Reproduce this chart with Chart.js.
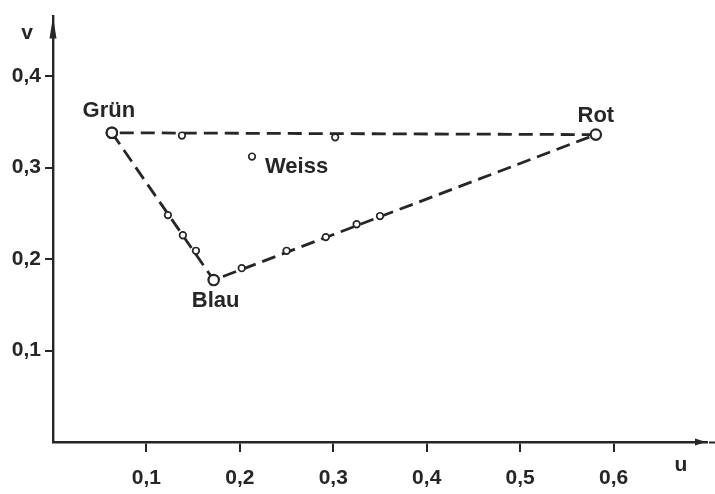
<!DOCTYPE html>
<html>
<head>
<meta charset="utf-8">
<script src="https://cdn.jsdelivr.net/npm/chart.js@4"></script>
<style>
  html, body { margin: 0; padding: 0; background: #fff; }
  #box { width: 715px; height: 494px; position: relative; }
</style>
</head>
<body>
<div id="box"><canvas id="c"></canvas></div>
<script>
// ===== Data =====
const cornerNames = ["Grün", "Blau", "Rot"];
const cornerU = [0.063, 0.172, 0.581];
const cornerV = [0.338, 0.177, 0.336];

const whiteName = "Weiss";
const whiteU = [0.213];
const whiteV = [0.312];

// small measured points along the triangle sides
const sampleU = [0.138, 0.302, 0.123, 0.139, 0.153, 0.202, 0.250, 0.292, 0.325, 0.350];
const sampleV = [0.335, 0.333, 0.248, 0.226, 0.209, 0.190, 0.209, 0.224, 0.238, 0.247];

const uTicks = [0.1, 0.2, 0.3, 0.4, 0.5, 0.6];
const vTicks = [0.1, 0.2, 0.3, 0.4];

// ===== Helpers =====
const INK = "#262626";
const FONT = "'Liberation Sans', Arial, sans-serif";

function pts(us, vs) {
  return us.map((u, i) => ({ x: u, y: vs[i] }));
}
function comma(v) {
  return Number(v).toFixed(1).replace(".", ",");
}

// triangle loop Grün -> Blau -> Rot -> Grün
const loopU = [cornerU[0], cornerU[1], cornerU[2], cornerU[0]];
const loopV = [cornerV[0], cornerV[1], cornerV[2], cornerV[0]];

// ===== Decorations: arrows, axis names, point labels =====
const decor = {
  id: "decor",
  afterDraw(chart) {
    const ctx = chart.ctx;
    const a = chart.chartArea;
    const xs = chart.scales.x, ys = chart.scales.y;
    ctx.save();
    ctx.fillStyle = INK;
    ctx.strokeStyle = INK;

    // y arrow head
    ctx.beginPath();
    ctx.moveTo(a.left, a.top);
    ctx.lineTo(a.left - 3.5, a.top + 22);
    ctx.lineTo(a.left + 3.5, a.top + 22);
    ctx.closePath();
    ctx.fill();

    // x arrow head + little tail
    ctx.beginPath();
    ctx.moveTo(a.right - 1, a.bottom);
    ctx.lineTo(a.right - 12, a.bottom - 3.5);
    ctx.lineTo(a.right - 12, a.bottom + 3.5);
    ctx.closePath();
    ctx.fill();
    ctx.lineWidth = 2;
    ctx.beginPath();
    ctx.moveTo(a.right + 2, a.bottom + 0.5);
    ctx.lineTo(a.right + 8, a.bottom + 0.5);
    ctx.stroke();

    // axis names
    ctx.font = "bold 21px " + FONT;
    ctx.textAlign = "center";
    ctx.textBaseline = "middle";
    ctx.fillText("v", a.left - 26, a.top + 17);
    ctx.fillText("u", a.right - 26, a.bottom + 23);

    // corner labels
    const offs = { "Grün": [-3, -16], "Blau": [2, 27], "Rot": [0, -13] };
    ctx.font = "bold 22px " + FONT;
    ctx.textBaseline = "alphabetic";
    cornerNames.forEach((n, i) => {
      const px = xs.getPixelForValue(cornerU[i]);
      const py = ys.getPixelForValue(cornerV[i]);
      ctx.fillText(n, px + offs[n][0], py + offs[n][1]);
    });

    // white point label
    ctx.textAlign = "left";
    ctx.fillText(whiteName, xs.getPixelForValue(whiteU[0]) + 13, ys.getPixelForValue(whiteV[0]) + 16);
    ctx.restore();
  }
};

// ===== Chart =====
const tickFont = { family: FONT, size: 21, weight: "bold" };

new Chart(document.getElementById("c"), {
  type: "scatter",
  data: {
    datasets: [
      {
        data: pts(whiteU, whiteV),
        pointRadius: 3.3,
        pointBorderWidth: 1.7,
        pointBackgroundColor: "#fff",
        pointBorderColor: INK,
        showLine: false,
        order: 1
      },
      {
        data: pts(sampleU, sampleV),
        pointRadius: 3.3,
        pointBorderWidth: 1.7,
        pointBackgroundColor: "#fff",
        pointBorderColor: INK,
        showLine: false,
        order: 1
      },
      {
        data: pts(loopU, loopV),
        showLine: true,
        borderColor: INK,
        borderWidth: 2.8,
        borderDash: [14, 7],
        pointRadius: 5.2,
        pointBorderWidth: 2.2,
        pointBackgroundColor: "#fff",
        pointBorderColor: INK,
        tension: 0,
        order: 2
      }
    ]
  },
  options: {
    responsive: true,
    maintainAspectRatio: false,
    animation: false,
    events: [],
    layout: { padding: { top: 10, right: 8, left: 0, bottom: 0 } },
    plugins: {
      legend: { display: false },
      tooltip: { enabled: false }
    },
    scales: {
      x: {
        type: "linear",
        min: 0,
        max: 0.7,
        afterBuildTicks: s => { s.ticks = uTicks.map(v => ({ value: v })); },
        afterFit: s => { s.height = 52; },
        grid: { drawOnChartArea: false, drawTicks: true, tickLength: 10, lineWidth: 2, color: INK },
        border: { display: true, color: INK, width: 2.4 },
        ticks: { font: tickFont, color: INK, padding: 14, maxRotation: 0, callback: comma }
      },
      y: {
        type: "linear",
        min: 0,
        max: 0.465,
        afterBuildTicks: s => { s.ticks = vTicks.map(v => ({ value: v })); },
        afterFit: s => { s.width = 53; },
        grid: { drawOnChartArea: false, drawTicks: true, tickLength: 8, lineWidth: 2, color: INK },
        border: { display: true, color: INK, width: 2.4 },
        ticks: { font: tickFont, color: INK, padding: 4, callback: comma }
      }
    }
  },
  plugins: [decor]
});
</script>
</body>
</html>
